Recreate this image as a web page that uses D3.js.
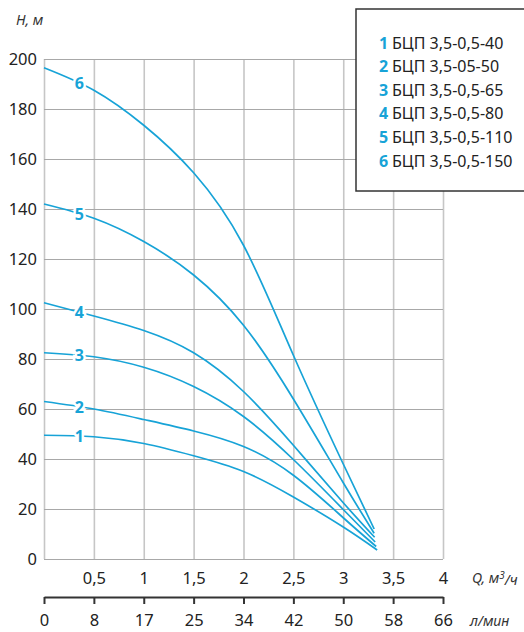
<!DOCTYPE html>
<html><head><meta charset="utf-8">
<script src="https://cdn.jsdelivr.net/npm/d3@7"></script>
<style>
html,body{margin:0;padding:0;background:#fff;}
svg{display:block;font-family:"Noto Sans",sans-serif;}
</style></head>
<body>
<script>
// ---- data ----
const qTicks = [0.5, 1, 1.5, 2, 2.5, 3, 3.5, 4];
const hTicks = [0, 20, 40, 60, 80, 100, 120, 140, 160, 180, 200];
const lminTickPos = [0, 0.5, 1, 1.5, 2, 2.5, 3, 3.5, 4];
const lminLabels = ["0", "8", "17", "25", "34", "42", "50", "58", "66"];
const seriesNames = ["1", "2", "3", "4", "5", "6"];
const legendLabels = ["БЦП 3,5-0,5-40", "БЦП 3,5-05-50", "БЦП 3,5-0,5-65", "БЦП 3,5-0,5-80", "БЦП 3,5-0,5-110", "БЦП 3,5-0,5-150"];
const q1 = [0, 0.5, 1, 1.5, 2, 2.5, 3, 3.34];
const h1 = [49.5, 48.9, 46.2, 41.3, 35, 24.8, 12.8, 3.6];
const q2 = [0, 0.5, 1, 1.5, 2, 2.5, 3, 3.33];
const h2 = [63, 60, 55.8, 51.2, 45, 33.5, 16.5, 5];
const q3 = [0, 0.5, 1, 1.5, 2, 2.5, 3, 3.32];
const h3 = [82.5, 80.9, 76.7, 69, 57, 39.8, 19.8, 6.8];
const q4 = [0, 0.5, 1, 1.5, 2, 2.5, 3, 3.315];
const h4 = [102.5, 97.2, 91.4, 82.5, 67, 45.5, 22.5, 8.7];
const q5 = [0, 0.5, 1, 1.5, 2, 2.5, 3, 3.31];
const h5 = [142, 136.3, 127, 113.6, 93.5, 64, 30.5, 10.3];
const q6 = [0, 0.5, 1, 1.5, 2, 2.5, 3, 3.31];
const h6 = [196.5, 187.5, 173.5, 154.5, 125.5, 81.5, 38, 12];
const labelQ = 0.355;

const qs = [q1, q2, q3, q4, q5, q6];
const hs = [h1, h2, h3, h4, h5, h6];

// ---- layout ----
const W = 524, H = 632;
const CYAN = "#17a3d7";
const x = d3.scaleLinear().domain([0, 4]).range([44, 443]);
const y = d3.scaleLinear().domain([0, 200]).range([559, 59]);

const svg = d3.select("body").append("svg").attr("width", W).attr("height", H);

// grid vertical
const gx = svg.append("g").attr("transform", `translate(0,${y(0)})`)
  .call(d3.axisBottom(x).tickValues([0].concat(qTicks)).tickSize(-(y(0) - y(200))).tickFormat(""));
gx.select(".domain").remove();
gx.selectAll("line").attr("stroke", "#c6c6c6").attr("stroke-width", 1.6);

// grid horizontal
const gy = svg.append("g").attr("transform", `translate(${x(0)},0)`)
  .call(d3.axisLeft(y).tickValues(hTicks).tickSize(-(x(4) - x(0))).tickFormat(""));
gy.select(".domain").remove();
gy.selectAll("line").attr("stroke", "#a8a8a8").attr("stroke-width", 1.2);

// y labels
const ya = svg.append("g").attr("transform", `translate(${x(0)},0)`)
  .call(d3.axisLeft(y).tickValues(hTicks).tickSize(0).tickPadding(7));
ya.select(".domain").remove();
ya.selectAll("text").attr("font-size", 16.5).attr("fill", "#222").attr("font-family", "Noto Sans");

// top x labels
const xa = svg.append("g").attr("transform", `translate(0,${y(0)})`)
  .call(d3.axisBottom(x).tickValues(qTicks).tickSize(0).tickPadding(0)
    .tickFormat(d => String(d).replace(".", ",")));
xa.select(".domain").remove();
xa.selectAll("text").attr("y", 19).attr("dy", "0.35em").attr("font-size", 16.5).attr("fill", "#222").attr("font-family", "Noto Sans");

// l/min axis
const la = svg.append("g").attr("transform", "translate(0,597)")
  .call(d3.axisBottom(x).tickValues(lminTickPos).tickSize(7).tickSizeOuter(0).tickPadding(0)
    .tickFormat((d, i) => lminLabels[i]));
la.select(".domain").attr("stroke", "#333").attr("stroke-width", 2);
la.selectAll("line").attr("stroke", "#333").attr("stroke-width", 2);
la.selectAll("text").attr("y", 23).attr("dy", "0.35em").attr("font-size", 16.5).attr("fill", "#222").attr("font-family", "Noto Sans");

// axis titles
svg.append("text").attr("x", 16).attr("y", 20).attr("dy", "0.35em")
  .attr("font-size", 14).attr("font-style", "italic").attr("fill", "#333").text("H, м");
const qt = svg.append("text").attr("x", 472).attr("y", 578).attr("dy", "0.35em")
  .attr("font-size", 14).attr("font-style", "italic").attr("fill", "#333");
qt.append("tspan").text("Q, м");
qt.append("tspan").attr("dy", "-0.4em").attr("font-size", 10).text("3");
qt.append("tspan").attr("dy", "0.4em").text("/ч");
svg.append("text").attr("x", 470).attr("y", 621).attr("dy", "0.35em")
  .attr("font-size", 14).attr("font-style", "italic").attr("fill", "#333").text("л/мин");

// curves
const line = d3.line().x(d => x(d[0])).y(d => y(d[1])).curve(d3.curveNatural);
qs.forEach((qa, i) => {
  const pts = qa.map((q, j) => [q, hs[i][j]]);
  svg.append("path").datum(pts).attr("d", line)
    .attr("fill", "none").attr("stroke", CYAN).attr("stroke-width", 1.7);
});
// curve labels
qs.forEach((qa, i) => {
  const ha = hs[i];
  const hv = ha[0] + (ha[1] - ha[0]) * (labelQ - qa[0]) / (qa[1] - qa[0]);
  svg.append("text").attr("x", x(labelQ)).attr("y", y(hv)).attr("dy", "0.36em")
    .attr("text-anchor", "middle").attr("font-size", 16).attr("font-weight", "bold")
    .attr("fill", CYAN).attr("stroke", "#fff").attr("stroke-width", 5)
    .attr("paint-order", "stroke").text(seriesNames[i]);
});

// legend
svg.append("rect").attr("x", 356).attr("y", 9).attr("width", 190).attr("height", 182)
  .attr("fill", "#fff").attr("stroke", "#333").attr("stroke-width", 1.5);
const lg = svg.append("g");
seriesNames.forEach((n, i) => {
  const t = lg.append("text").attr("x", 379).attr("y", 43 + i * 23.6).attr("dy", "0.35em")
    .attr("font-size", 16).attr("fill", "#222");
  t.append("tspan").attr("fill", CYAN).attr("font-weight", "bold").text(n);
  t.append("tspan").attr("x", 392).text(legendLabels[i]);
});
</script>
</body></html>
